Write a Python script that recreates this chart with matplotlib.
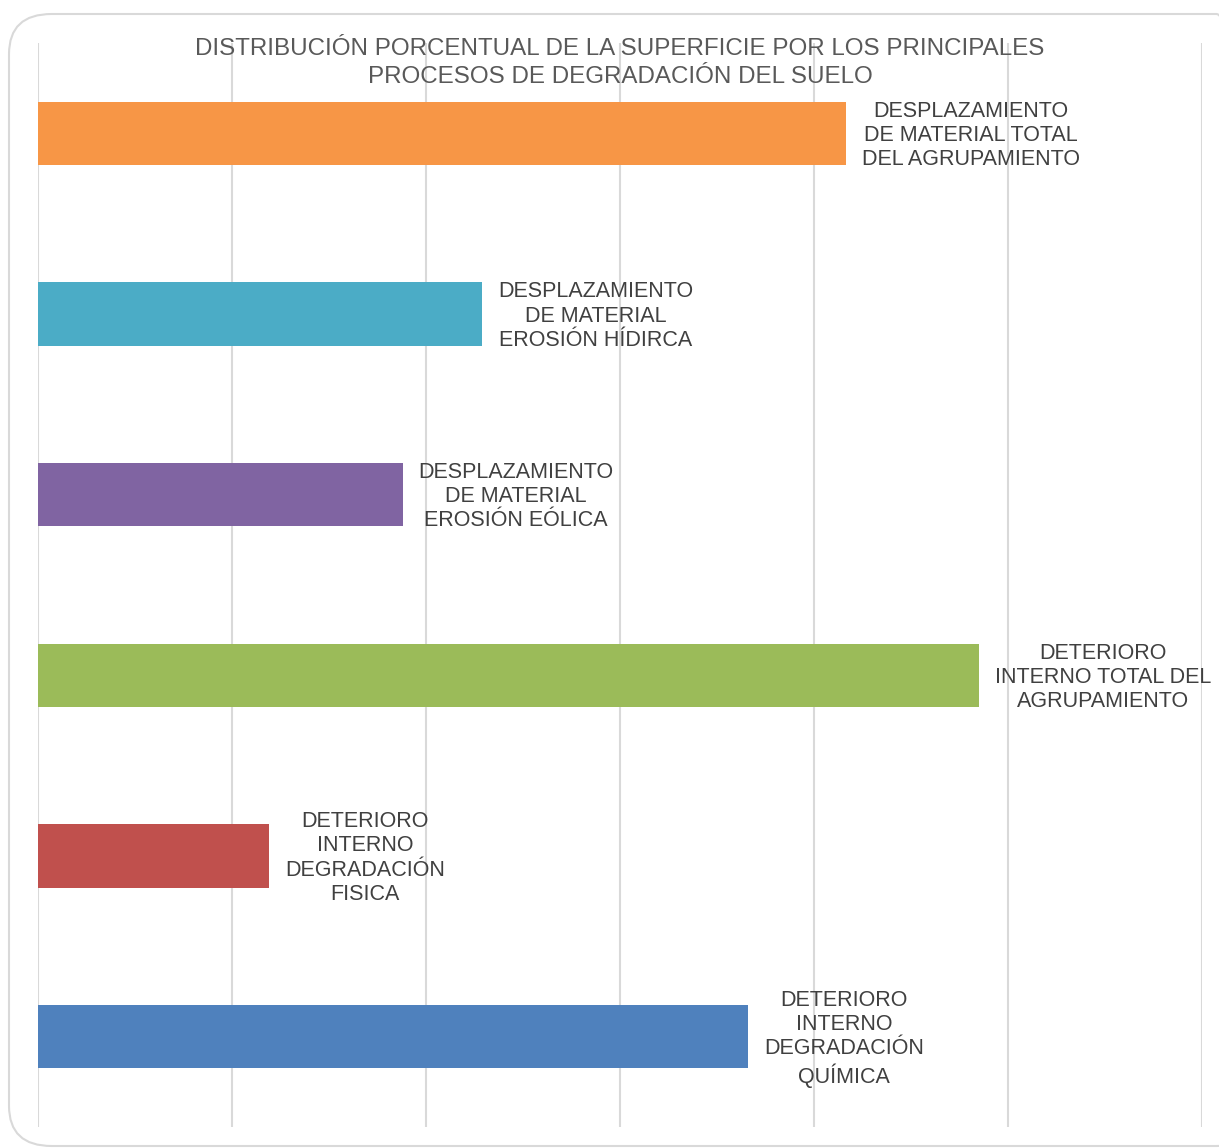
import matplotlib.pyplot as plt
from matplotlib.patches import FancyBboxPatch

plt.rcParams['font.family'] = ['Liberation Sans', 'DejaVu Sans']

# procesos de degradacion (de arriba a abajo)
labels = [
    "DESPLAZAMIENTO\nDE MATERIAL TOTAL\nDEL AGRUPAMIENTO",
    "DESPLAZAMIENTO\nDE MATERIAL\nEROSIÓN HÍDIRCA",
    "DESPLAZAMIENTO\nDE MATERIAL\nEROSIÓN EÓLICA",
    "DETERIORO\nINTERNO TOTAL DEL\nAGRUPAMIENTO",
    "DETERIORO\nINTERNO\nDEGRADACIÓN\nFISICA",
    "DETERIORO\nINTERNO\nDEGRADACIÓN\nQUÍMICA",
]
porcentaje = [41.65, 22.9, 18.8, 48.5, 11.9, 36.6]
colores = ["#F79646", "#4BACC6", "#8064A2", "#9BBB59", "#C0504D", "#4F81BD"]

fig = plt.figure(figsize=(12.19, 11.48), dpi=100)

# marco redondeado
marco = FancyBboxPatch((9 / 1219, 1 - 1146 / 1148), 1250 / 1219, 1132 / 1148,
                       boxstyle="round,pad=0,rounding_size=0.035",
                       transform=fig.transFigure, facecolor="none",
                       edgecolor="#d9d9d9", linewidth=1.5, zorder=-1)
fig.patches.append(marco)

ax = fig.add_axes([38 / 1219, 1 - 1127 / 1148, 1164 / 1219, 1084 / 1148])
ax.patch.set_alpha(0)

y = list(range(len(labels)))
ax.barh(y, porcentaje, height=0.35, color=colores, zorder=3)

for i in range(len(labels)):
    ax.annotate(labels[i], (porcentaje[i], y[i]), xytext=(16, -2),
                textcoords='offset pixels', ha='left', va='center',
                multialignment='center', fontsize=15.5, color="#404040",
                linespacing=1.2, zorder=4, annotation_clip=False)

ax.set_xlim(0, 60)
ax.set_ylim(5.5, -0.5)
ax.set_xticks(range(0, 61, 10))
ax.set_yticks([])
ax.tick_params(axis='x', length=0, labelbottom=False)
ax.grid(axis='x', color="#d9d9d9", linewidth=1.5, zorder=0)
for s in ax.spines.values():
    s.set_visible(False)

fig.text(620 / 1219, 1 - 63 / 1148,
         "DISTRIBUCIÓN PORCENTUAL DE LA SUPERFICIE POR LOS PRINCIPALES\nPROCESOS DE DEGRADACIÓN DEL SUELO",
         ha='center', va='center', fontsize=17.4, color="#595959",
         linespacing=1.3, zorder=5)

fig.savefig("out.png", dpi=100)
